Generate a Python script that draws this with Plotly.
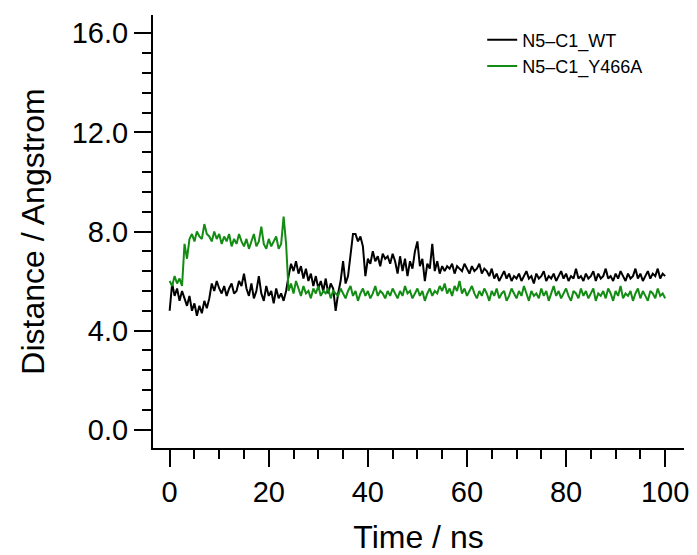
import numpy as np
import plotly.graph_objects as go

# time grid (ns), 0.5 ns sampling
time_ns = np.arange(0, 100.01, 0.5)

wt = [
    # 0-3
    4.8, 5.9, 5.4, 5.7, 5.2, 5.6, 5.3,
    # 3.5-8
    5.0, 5.4, 4.8, 5.1, 4.6, 5.0, 4.7, 5.2, 4.9, 5.3,
    # 8.5-23.5
    5.9, 5.6, 6.0, 5.7, 5.5, 5.8, 5.4, 5.7, 5.9, 5.5,
    5.6, 6.0, 5.8, 6.3, 5.7, 5.4, 5.9, 5.3, 5.6, 6.2,
    5.5, 5.2, 5.8, 5.4, 5.6, 5.1, 5.7, 5.3, 5.5, 5.2, 5.6,
    # 24-33
    6.2, 6.7, 6.4, 6.8, 6.3, 6.6, 6.1, 6.5, 6.0, 6.3,
    5.8, 6.2, 5.7, 6.0, 5.6, 6.1, 5.5, 5.9, 5.7,
    # 33.5-37
    4.8, 5.5, 6.0, 6.8, 5.9, 6.2, 7.2, 7.9,
    # 37.5-40
    7.9, 7.6, 7.8, 7.4, 6.2, 6.9,
    # 40.5-55
    6.7, 7.2, 6.8, 7.0, 6.6, 7.1, 6.9, 7.0, 6.7, 7.1,
    6.8, 6.3, 7.0, 6.4, 6.9, 6.2, 6.8, 6.5, 7.2, 7.6,
    6.6, 6.9, 6.0, 6.7, 6.5, 7.5, 6.4, 6.8, 6.3, 6.6,
    # 55.5-65
    6.4, 6.6, 6.5, 6.7, 6.3, 6.6, 6.5, 6.4, 6.7, 6.5,
    6.3, 6.6, 6.4, 6.5, 6.7, 6.3, 6.5, 6.4, 6.2, 6.5,
    # 65.5-100
    6.1, 6.3, 6.0, 6.2, 6.4, 6.1, 6.3, 6.0, 6.2, 6.1,
    6.3, 6.0, 6.2, 6.4, 6.1, 6.2, 5.9, 6.3, 6.1, 6.2,
    6.4, 6.0, 6.2, 6.1, 6.3, 6.0, 6.2, 6.4, 6.1, 6.3,
    6.0, 6.2, 6.1, 6.5, 6.1, 6.2, 6.0, 6.3, 6.1, 6.2,
    6.4, 6.0, 6.3, 6.1, 6.2, 6.5, 6.1, 6.2, 6.0, 6.3,
    6.1, 6.4, 6.2, 6.0, 6.3, 6.1, 6.2, 6.5, 6.1, 6.3,
    6.0, 6.2, 6.4, 6.1, 6.3, 6.2, 6.5, 6.1, 6.3, 6.2,
]

y466a = [
    # 0-2.5
    6.0, 5.8, 6.2, 5.9, 6.1, 5.8,
    # 3-23.5
    7.5, 6.9, 7.7, 7.9, 7.6, 8.0, 7.8, 7.7, 8.3, 7.9,
    7.8, 7.6, 8.0, 7.7, 7.9, 7.5, 7.8, 7.6, 7.9, 7.4,
    7.7, 7.5, 7.9, 7.6, 7.4, 7.7, 7.3, 7.6, 7.9, 7.4,
    7.6, 8.2, 7.5, 7.3, 7.7, 7.4, 7.6, 7.8, 7.3, 7.5,
    8.6, 7.5,
    # 24-33.5
    5.6, 5.9, 5.5, 6.0, 5.7, 5.4, 5.8, 5.5, 5.6, 5.3,
    5.7, 5.5, 5.8, 5.4, 5.6, 5.5, 5.7, 5.3, 5.6, 5.5,
    # 34-43.5
    5.4, 5.7, 5.5, 5.3, 5.6, 5.8, 5.4, 5.6, 5.2, 5.5,
    5.7, 5.4, 5.6, 5.3, 5.5, 5.8, 5.4, 5.6, 5.5, 5.3,
    # 44-53.5
    5.6, 5.4, 5.7, 5.5, 5.3, 5.6, 5.4, 5.8, 5.5, 5.6,
    5.3, 5.5, 5.7, 5.4, 5.6, 5.2, 5.5, 5.7, 5.4, 5.6,
    # 54-63.5
    5.5, 5.8, 5.6, 5.9, 5.5, 5.7, 5.4, 5.8, 5.6, 6.0,
    5.5, 5.7, 5.4, 5.6, 5.8, 5.5, 5.3, 5.6, 5.4, 5.7,
    # 64-73.5
    5.5, 5.2, 5.6, 5.4, 5.7, 5.3, 5.5, 5.6, 5.2, 5.4,
    5.7, 5.5, 5.3, 5.6, 5.4, 5.8, 5.5, 5.2, 5.6, 5.4,
    # 74-83.5
    5.5, 5.3, 5.7, 5.4, 5.6, 5.2, 5.5, 5.8, 5.4, 5.6,
    5.3, 5.5, 5.7, 5.4, 5.2, 5.6, 5.5, 5.3, 5.7, 5.4,
    # 84-93.5
    5.6, 5.3, 5.5, 5.7, 5.2, 5.5, 5.4, 5.6, 5.3, 5.7,
    5.5, 5.2, 5.6, 5.4, 5.8, 5.3, 5.5, 5.4, 5.6, 5.2,
    # 94-100
    5.5, 5.7, 5.3, 5.6, 5.4, 5.2, 5.6, 5.5, 5.3, 5.7,
    5.4, 5.5, 5.3,
]

series_names = ["N5\u2013C1_WT", "N5\u2013C1_Y466A"]
series_colors = ["#000000", "#138c13"]

x_ticks = [0, 20, 40, 60, 80, 100]
y_ticks = [0, 4, 8, 12, 16]
y_tick_text = ["0.0", "4.0", "8.0", "12.0", "16.0"]

fig = go.Figure()
for name, vals, col in zip(series_names, [wt, y466a], series_colors):
    fig.add_trace(go.Scatter(
        x=time_ns, y=vals, mode="lines", name=name,
        line=dict(color=col, width=2.0),
    ))

font_family = "Liberation Sans, Arial, sans-serif"

fig.update_layout(
    width=697, height=555,
    margin=dict(l=153, r=13, t=15, b=107, autoexpand=False),
    paper_bgcolor="white", plot_bgcolor="white",
    font=dict(family=font_family, color="black"),
    showlegend=True,
    legend=dict(
        x=0.62, y=0.985, xanchor="left", yanchor="top",
        font=dict(size=18, family=font_family, color="black"),
        bgcolor="rgba(0,0,0,0)", tracegroupgap=0,
    ),
)

fig.update_xaxes(
    range=[-3.36, 103.8],
    tickmode="array", tickvals=x_ticks, ticktext=[str(v) for v in x_ticks],
    ticks="outside", ticklen=17, tickwidth=2, tickcolor="black",
    minor=dict(dtick=5, ticks="outside", ticklen=9, tickwidth=2, tickcolor="black", showgrid=False),
    showline=True, linecolor="black", linewidth=2,
    showgrid=False, zeroline=False,
    tickfont=dict(size=29, family=font_family),
    title=dict(text="Time / ns", font=dict(size=32, family=font_family), standoff=20),
)
fig.update_yaxes(
    range=[-0.74, 16.74],
    tickmode="array", tickvals=y_ticks, ticktext=y_tick_text,
    ticks="outside", ticklen=17, tickwidth=2, tickcolor="black",
    minor=dict(dtick=0.8, tick0=0, ticks="outside", ticklen=9, tickwidth=2, tickcolor="black", showgrid=False),
    showline=True, linecolor="black", linewidth=2,
    showgrid=False, zeroline=False,
    tickfont=dict(size=29, family=font_family),
    title=dict(text="Distance / Angstrom", font=dict(size=32, family=font_family), standoff=18),
)

fig.write_html("out.html")
